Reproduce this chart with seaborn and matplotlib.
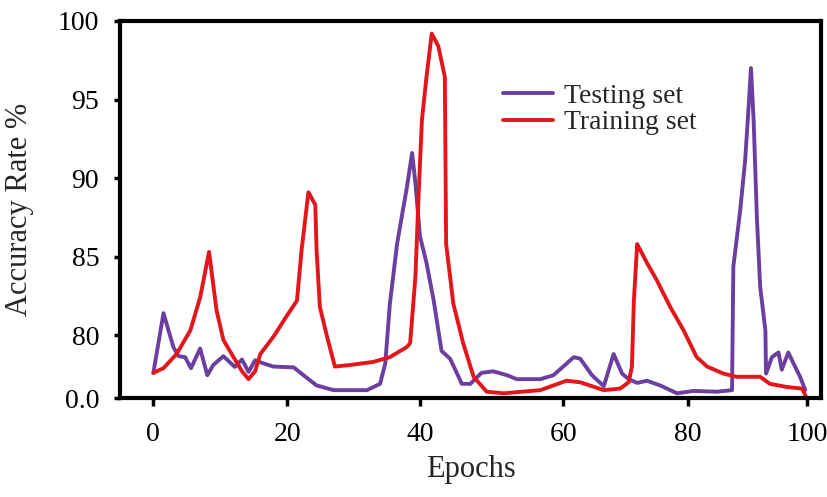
import numpy as np
import pandas as pd
import seaborn as sns
import matplotlib.pyplot as plt

# Testing set (purple)
test_epoch = [0.05, 1.6, 3.1, 3.9, 4.9, 5.8, 7.2, 8.3, 9.2, 10.75, 12.5, 13.6, 14.6, 15.6,
              16.9, 18.4, 21.5, 23.0, 25.0, 27.6, 30.1, 32.7, 34.7, 35.5, 36.2, 37.3, 38.0,
              38.8, 39.6, 40.1, 40.8, 41.8, 42.9, 44.1, 45.4, 46.2, 47.2, 48.5, 50.2, 52.0,
              54.1, 55.6, 57.6, 59.2, 61.2, 62.7, 64.3, 65.3, 67.1, 68.9, 70.4, 71.7, 72.7,
              74.0, 75.5, 77.5, 80.1, 82.6, 86.2, 88.5, 88.7, 89.75, 90.5, 91.0, 91.4, 91.8,
              92.3, 92.8, 93.6, 93.7, 94.6, 95.6, 96.1, 97.1, 97.9, 98.9, 99.7]
test_acc = [77.6, 81.4, 79.25, 78.66, 78.6, 77.9, 79.15, 77.45, 78.1, 78.66, 77.98, 78.45, 77.66, 78.4,
            78.2, 78.0, 77.95, 77.45, 76.8, 76.5, 76.5, 76.5, 76.9, 78.2, 82.0, 85.8, 87.5,
            89.4, 91.6, 89.7, 86.3, 84.6, 82.2, 79.0, 78.5, 77.8, 76.9, 76.9, 77.6, 77.7,
            77.45, 77.2, 77.2, 77.2, 77.45, 78.0, 78.6, 78.5, 77.45, 76.75, 78.8, 77.55, 77.2,
            76.96, 77.1, 76.8, 76.3, 76.45, 76.4, 76.5, 84.35, 87.96, 91.1, 94.3, 97.0, 93.7,
            87.5, 83.1, 80.3, 77.55, 78.6, 78.9, 77.8, 78.9, 78.2, 77.35, 76.5]

# Training set (red)
train_epoch = [0.05, 1.6, 3.6, 5.7, 7.2, 8.56, 9.7, 10.75, 12.3, 13.6, 14.6, 15.6, 16.4, 18.4,
               20.4, 22.0, 22.7, 23.75, 24.8, 25.0, 25.5, 26.6, 27.8, 30.1, 33.7, 36.2, 38.8,
               39.3, 40.1, 40.6, 41.1, 41.8, 42.6, 43.6, 44.6, 44.8, 45.9, 47.4, 49.0, 51.0,
               53.6, 59.2, 61.2, 63.2, 65.3, 68.9, 71.4, 72.7, 73.2, 73.5, 74.0, 75.5, 77.0,
               79.05, 81.1, 83.1, 84.7, 87.2, 89.2, 92.8, 94.3, 96.9, 99.2, 99.9]
train_acc = [77.6, 77.9, 78.8, 80.3, 82.4, 85.3, 81.6, 79.7, 78.6, 77.7, 77.2, 77.7, 78.8, 79.9,
             81.2, 82.2, 85.4, 89.1, 88.3, 85.4, 81.8, 79.9, 78.0, 78.1, 78.3, 78.6, 79.25,
             79.5, 83.7, 89.0, 93.7, 96.45, 99.2, 98.4, 96.45, 85.8, 82.0, 79.5, 77.35, 76.4,
             76.3, 76.5, 76.8, 77.1, 77.0, 76.5, 76.6, 77.0, 78.0, 82.2, 85.8, 84.6, 83.5,
             81.8, 80.3, 78.6, 78.0, 77.55, 77.35, 77.35, 76.9, 76.7, 76.6, 76.0]

# axis ticks as drawn in the original (uneven spacing on x, odd bottom label on y)
x_tick_pos = [0, 20.5, 40.8, 62.7, 81.8, 100]
x_tick_labels = ['0', '20', '40', '60', '80', '100']
y_tick_pos = [76, 80, 85, 90, 95, 100]
y_tick_labels = ['0.0', '80', '85', '90', '95', '100']

df = pd.concat([
    pd.DataFrame({'Epochs': test_epoch, 'acc': test_acc, 'set': 'Testing set'}),
    pd.DataFrame({'Epochs': train_epoch, 'acc': train_acc, 'set': 'Training set'}),
], ignore_index=True)

sns.set_style('ticks')
plt.rcParams['font.family'] = ['Liberation Serif', 'DejaVu Serif']

fig = plt.figure(figsize=(8.28, 4.97), dpi=100)
ax = fig.add_axes([120 / 828, 1 - 398 / 497, 701 / 828, 377 / 497])

palette = {'Testing set': '#6B3FA0', 'Training set': '#E3161B'}
sns.lineplot(data=df, x='Epochs', y='acc', hue='set', palette=palette,
             estimator=None, sort=False, linewidth=2.8, ax=ax)

ax.set_xlim(-5.05, 102.1)
ax.set_ylim(76, 100)
ax.set_xticks(x_tick_pos)
ax.set_xticklabels(x_tick_labels)
ax.set_yticks(y_tick_pos)
ax.set_yticklabels(y_tick_labels)

for s in ax.spines.values():
    s.set_linewidth(3)
    s.set_color('black')
ax.tick_params(axis='x', length=6, width=2.5, pad=11, labelsize=20, colors='black')
ax.tick_params(axis='y', length=4, width=2.5, pad=11, labelsize=20, colors='black')

ax.set_xlabel('Epochs', fontsize=22)
ax.set_ylabel('Accuracy Rate %', fontsize=22)
ax.xaxis.set_label_coords(0.5, -0.15)
ax.yaxis.set_label_coords(-0.122, 0.5)

handles, labels = ax.get_legend_handles_labels()
ax.legend(handles, labels, loc='upper left', bbox_to_anchor=(0.546, 0.835),
          frameon=False, fontsize=20, handlelength=1.8, handletextpad=0.4,
          labelspacing=0.05, borderpad=0, borderaxespad=0)

fig.savefig('out.png', dpi=100)
